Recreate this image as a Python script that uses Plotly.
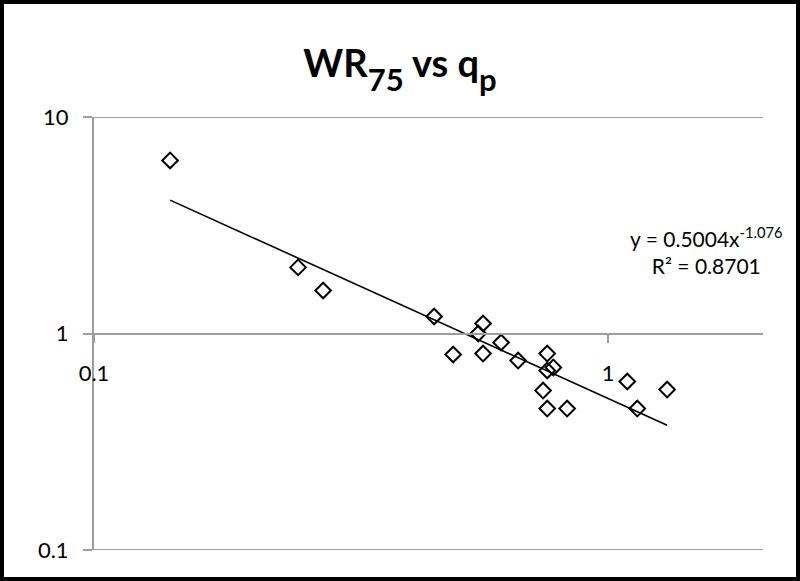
import numpy as np
import plotly.graph_objects as go

# Data (q_p vs WR75)
qp = [0.1406, 0.2494, 0.279, 0.4586, 0.571, 0.5587, 0.4994, 0.571, 0.619,
      0.668, 0.761, 0.761, 0.782, 0.747, 0.761, 0.832, 1.089, 1.139, 1.302]
wr75 = [6.30, 2.02, 1.58, 1.198, 1.112, 1.0, 0.80, 0.808, 0.909,
        0.750, 0.808, 0.675, 0.697, 0.545, 0.450, 0.450, 0.600, 0.450, 0.551]

# Power trendline from the chart label: y = 0.5004 x^-1.076
coef_a = 0.5004
coef_b = -1.076
r2 = 0.8701

x_ticks = [0.1, 1]
x_ticktext = ["0.1", "1"]
y_ticks = [0.1, 1, 10]
y_ticktext = ["0.1", "1", "10"]

tx = np.logspace(np.log10(min(qp)), np.log10(max(qp)), 100)
ty = coef_a * tx ** coef_b

FONT = "Lato"
GRID = "#9d9d9d"

fig = go.Figure()
fig.add_trace(go.Scatter(x=tx, y=ty, mode="lines",
                         line=dict(color="black", width=1.6),
                         hoverinfo="skip", showlegend=False))
fig.add_trace(go.Scatter(x=qp, y=wr75, mode="markers",
                         marker=dict(symbol="diamond-open", size=12, color="black",
                                     line=dict(color="black", width=2)),
                         showlegend=False))

W, H = 800, 581
ml, mr, mt, mb = 94, 37, 117, 31
pw, ph = W - ml - mr, H - mt - mb

sub = '<span style="font-size:31px;baseline-shift:-6px">{}</span>'
title_text = ("<b>WR<sub>" + sub.format("75") + "</sub> vs q<sub>"
              + sub.format("p") + "</sub></b>")

fig.update_layout(
    width=W, height=H,
    margin=dict(l=ml, r=mr, t=mt, b=mb, pad=0),
    paper_bgcolor="white", plot_bgcolor="white",
    font=dict(family=FONT, size=22, color="black"),
    title=dict(text=title_text,
               x=0.5, xanchor="center", y=1 - 64 / H, yanchor="middle",
               font=dict(family=FONT, size=38, color="black")),
    xaxis=dict(type="log", range=[-1, np.log10(2.0)],
               tickvals=x_ticks, ticktext=x_ticktext,
               showgrid=False, zeroline=False,
               showline=True, linecolor=GRID, linewidth=2,
               ticks="outside", ticklen=8, tickwidth=2, tickcolor=GRID,
               anchor="free", position=0.5, ticklabelstandoff=12,
               tickfont=dict(family=FONT, size=22, color="black")),
    yaxis=dict(type="log", range=[-1, 1],
               tickvals=y_ticks, ticktext=y_ticktext,
               showgrid=True, gridcolor=GRID, gridwidth=2,
               zeroline=False,
               showline=True, linecolor=GRID, linewidth=2,
               ticks="outside", ticklen=9, tickwidth=2, tickcolor=GRID,
               ticklabelstandoff=10,
               tickfont=dict(family=FONT, size=22, color="black")),
)

# gridlines at the range edges (plotly omits them there)
for yv in (y_ticks[0], y_ticks[-1]):
    fig.add_shape(type="line", xref="paper", yref="y", x0=0, x1=1, y0=yv, y1=yv,
                  line=dict(color=GRID, width=2), layer="below")

fig.add_annotation(
    text="y = 0.5004x<sup>-1.076</sup><br>R² = 0.8701",
    xref="paper", yref="paper",
    x=(706 - ml) / pw, y=(H - mb - 250) / ph,
    xanchor="center", yanchor="middle", align="center",
    showarrow=False, font=dict(family=FONT, size=21, color="black"))

# outer chart frame
fig.add_shape(type="rect", xref="paper", yref="paper",
              x0=(2 - ml) / pw, x1=(W - 2 - ml) / pw,
              y0=(-(mb - 2)) / ph, y1=(ph + mt - 2) / ph,
              line=dict(color="black", width=4), layer="above")

fig.write_html("out.html")
